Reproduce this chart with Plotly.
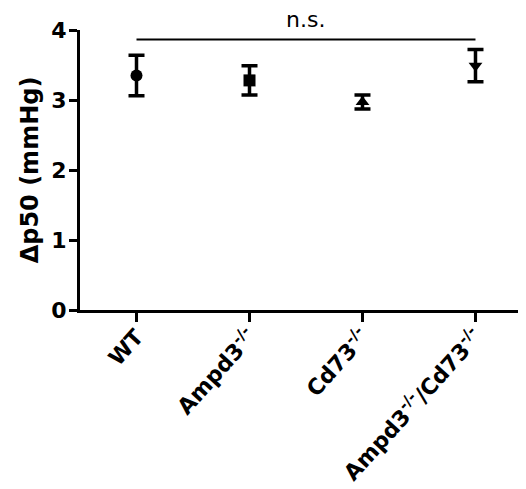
import plotly.graph_objects as go

categories = ["WT", "Ampd3<sup>-/-</sup>", "Cd73<sup>-/-</sup>", "Ampd3<sup>-/-</sup>/Cd73<sup>-/-</sup>"]
means = [3.35, 3.28, 2.97, 3.49]
errors = [0.29, 0.21, 0.10, 0.23]
symbols = ["circle", "square", "triangle-up", "triangle-down"]
y_ticks = [0, 1, 2, 3, 4]
sig_label = "n.s."
sig_level = 3.864

xpos = list(range(len(categories)))
FONT = "DejaVu Sans, Arial"

fig = go.Figure()
for i in xpos:
    fig.add_trace(go.Scatter(
        x=[i], y=[means[i]], mode="markers",
        marker=dict(symbol=symbols[i], size=12, color="black"),
        error_y=dict(type="data", array=[errors[i]], visible=True,
                     color="black", thickness=3.5, width=8),
        showlegend=False, cliponaxis=False,
    ))

fig.add_shape(type="line", xref="x", yref="y", x0=xpos[0], x1=xpos[-1],
              y0=sig_level, y1=sig_level, line=dict(color="black", width=1.8))
fig.add_annotation(x=1.5, y=0.985, xref="x", yref="paper", yanchor="bottom",
                   text=sig_label, showarrow=False,
                   font=dict(family=FONT, size=22, color="black"))

fig.update_layout(
    width=526, height=489,
    margin=dict(l=72, r=8, t=22, b=187, autoexpand=False),
    plot_bgcolor="white", paper_bgcolor="white",
    font=dict(family=FONT, color="black"),
    xaxis=dict(range=[-0.5, 3.447], tickmode="array", tickvals=xpos,
               ticktext=["<b>" + c + "</b>" for c in categories],
               tickangle=-48, showline=True, linecolor="black", linewidth=3,
               ticks="outside", ticklen=9, tickwidth=3, tickcolor="black",
               ticklabelstandoff=-7,
               showgrid=False, zeroline=False,
               tickfont=dict(size=22, family=FONT, color="black")),
    yaxis=dict(range=[0, 4], tickvals=y_ticks, ticktext=["<b>%d</b>" % v for v in y_ticks],
               showline=True, linecolor="black",
               linewidth=3, ticks="outside", ticklen=8, tickwidth=3, tickcolor="black",
               ticklabelstandoff=-2,
               showgrid=False, zeroline=False,
               tickfont=dict(size=22, family=FONT, color="black"),
               title=dict(text="<b>Δp50 (mmHg)</b>", standoff=6,
                          font=dict(size=24, family=FONT, color="black"))),
)

fig.write_html("out.html")
